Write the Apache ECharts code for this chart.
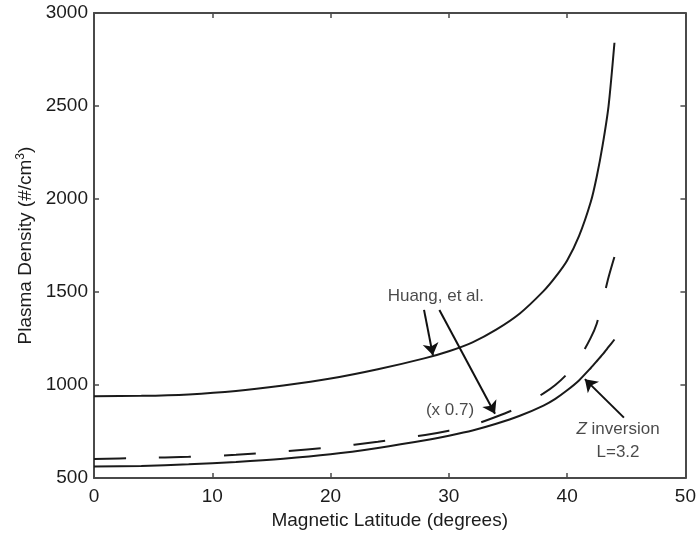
<!DOCTYPE html>
<html>
<head>
<meta charset="utf-8">
<title>Plasma Density vs Magnetic Latitude</title>
<script src="https://cdn.jsdelivr.net/npm/echarts@6/dist/echarts.min.js"></script>
<style>
    html, body { margin: 0; padding: 0; background: #fff; }
    #chart { width: 699px; height: 535px; }
</style>
</head>
<body>
<div id="chart"></div>
<script>
// magnetic latitude (degrees), shared by all three curves
var latitude = [0, 4, 8, 12, 16, 20, 24, 28, 30, 32, 34, 36, 38, 39, 40, 41, 42, 42.5, 43, 43.5, 44];
// Huang, et al. (upper solid curve)
var huangDensity = [940, 942, 950, 968, 998, 1035, 1085, 1145, 1182, 1230, 1298, 1385, 1505, 1580, 1670, 1800, 1985, 2120, 2290, 2500, 2840];
// Huang, et al. x 0.7 (dashed curve)
var huangScaled = [603, 608, 615, 625, 643, 665, 695, 732, 755, 785, 830, 882, 955, 1000, 1060, 1140, 1255, 1330, 1450, 1580, 1690];
// Z inversion, L=3.2 (lower solid curve)
var zInversion = [562, 565, 574, 587, 604, 628, 662, 703, 728, 756, 792, 835, 890, 926, 972, 1025, 1092, 1128, 1165, 1205, 1245];

// annotation texts and where they sit (data coordinates)
var noteText = ['Huang, et al.', '(x 0.7)', 'Z inversion', 'L=3.2'];
var noteLat = [28.9, 30.1, 44.3, 44.3];
var noteDensity = [1479, 867, 761, 638];

// arrows: from / to, in data coordinates
var arrowFrom = [[27.9, 1404], [29.2, 1404], [44.8, 825]];
var arrowTo = [[28.65, 1160], [33.9, 846], [41.5, 1032]];

var FONT = "'Liberation Sans', Arial, Helvetica, sans-serif";
var INK = '#1a1a1a';
var TEXT = '#1c1c1c';
var FRAME = '#4a4a4a';

function pairs(ys) {
    return latitude.map(function (x, i) { return [x, ys[i]]; });
}

var notes = noteText.map(function (t, i) {
    return { name: t, value: [noteLat[i], noteDensity[i]] };
});

var arrows = arrowFrom.map(function (f, i) {
    return [{ coord: f }, { coord: arrowTo[i] }];
});

var frameAxisLine = { show: true, onZero: false, lineStyle: { color: FRAME, width: 2 } };
var innerTick = { show: true, inside: true, length: 5, lineStyle: { color: FRAME, width: 1.5 } };
var plainNumber = function (v) { return String(v); };

var myChart = echarts.init(document.getElementById('chart'));
var option = {
    animation: false,
    backgroundColor: '#fff',
    grid: { left: 94, right: 10, top: 13, bottom: 53 },
    xAxis: [{
        type: 'value', min: 0, max: 50, interval: 10,
        name: 'Magnetic Latitude (degrees)', nameLocation: 'middle', nameGap: 27,
        nameTextStyle: { fontFamily: FONT, fontSize: 19, color: TEXT },
        axisLine: frameAxisLine, axisTick: innerTick,
        axisLabel: { fontFamily: FONT, fontSize: 19, color: TEXT, margin: 9, formatter: plainNumber },
        splitLine: { show: false }
    }, {
        type: 'value', min: 0, max: 50, interval: 10, position: 'top',
        axisLine: frameAxisLine, axisTick: innerTick,
        axisLabel: { show: false }, splitLine: { show: false }
    }],
    yAxis: [{
        type: 'value', min: 500, max: 3000, interval: 500,
        name: '{t|Plasma Density (#/cm}{s|3}{t|)}', nameLocation: 'middle', nameGap: 57,
        nameTextStyle: {
            rich: {
                t: { fontFamily: FONT, fontSize: 19, color: TEXT },
                s: { fontFamily: FONT, fontSize: 12, color: TEXT, verticalAlign: 'top', padding: [0, 0, 10, 0] }
            }
        },
        axisLine: frameAxisLine, axisTick: innerTick,
        axisLabel: { fontFamily: FONT, fontSize: 19, color: TEXT, margin: 6, formatter: plainNumber },
        splitLine: { show: false }
    }, {
        type: 'value', min: 500, max: 3000, interval: 500, position: 'right',
        axisLine: frameAxisLine, axisTick: innerTick,
        axisLabel: { show: false }, splitLine: { show: false }
    }],
    series: [{
        name: 'Huang, et al.', type: 'line', data: pairs(huangDensity),
        smooth: 0.25, showSymbol: false, silent: true,
        lineStyle: { color: INK, width: 2 }
    }, {
        name: 'Huang, et al. (x 0.7)', type: 'line', data: pairs(huangScaled),
        smooth: 0.25, showSymbol: false, silent: true,
        lineStyle: { color: INK, width: 2, type: [32, 33] }
    }, {
        name: 'Z inversion L=3.2', type: 'line', data: pairs(zInversion),
        smooth: 0.25, showSymbol: false, silent: true,
        lineStyle: { color: INK, width: 2 }
    }, {
        // texts and arrows of the annotations
        name: 'notes', type: 'scatter', data: notes, symbolSize: 0, silent: true,
        label: {
            show: true, position: 'inside', fontFamily: FONT, fontSize: 17, color: TEXT,
            formatter: function (p) {
                return p.name === 'Z inversion' ? '{it|Z} inversion' : p.name;
            },
            rich: { it: { fontFamily: FONT, fontSize: 17, fontStyle: 'italic', color: TEXT } }
        },
        markLine: {
            silent: true, symbol: ['none', 'arrow'], symbolSize: 12,
            label: { show: false },
            lineStyle: { color: '#111', width: 2, type: 'solid' },
            data: arrows
        }
    }]
};
myChart.setOption(option);
</script>
</body>
</html>
